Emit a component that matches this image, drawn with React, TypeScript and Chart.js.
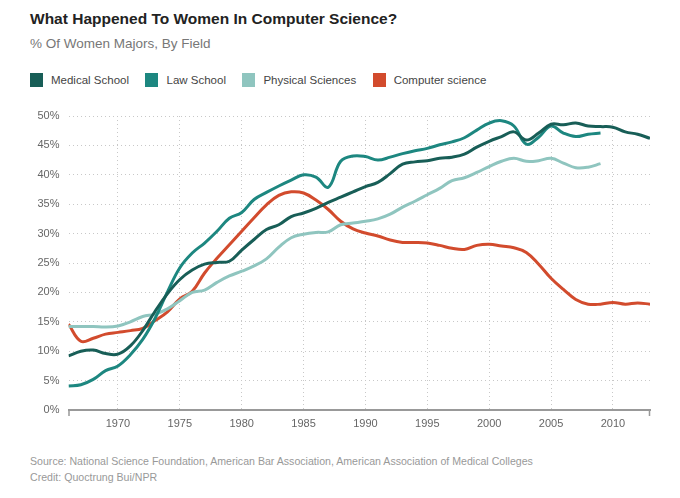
import { useEffect, useRef } from "react"
import { Chart, registerables } from "chart.js"

Chart.register(...registerables)

// 1966 - 2013
const years = [
  1966, 1967, 1968, 1969, 1970, 1971, 1972, 1973, 1974, 1975, 1976, 1977,
  1978, 1979, 1980, 1981, 1982, 1983, 1984, 1985, 1986, 1987, 1988, 1989,
  1990, 1991, 1992, 1993, 1994, 1995, 1996, 1997, 1998, 1999, 2000, 2001,
  2002, 2003, 2004, 2005, 2006, 2007, 2008, 2009, 2010, 2011, 2012, 2013,
]

const medicalSchool = [
  9.2, 10.0, 10.2, 9.6, 9.5, 10.9, 13.5, 16.8, 19.8, 22.2, 23.8, 24.8,
  25.1, 25.3, 27.2, 29.0, 30.7, 31.5, 32.9, 33.5, 34.3, 35.3, 36.2, 37.1,
  38.0, 38.7, 40.2, 41.8, 42.2, 42.4, 42.8, 43.0, 43.5, 44.7, 45.7, 46.5,
  47.3, 45.9, 47.1, 48.6, 48.5, 48.8, 48.3, 48.2, 48.1, 47.3, 46.9, 46.2,
]

// ends 2009
const lawSchool = [
  4.1, 4.3, 5.2, 6.7, 7.5, 9.4, 12.0, 15.6, 20.1, 24.2, 26.7, 28.4,
  30.4, 32.6, 33.6, 35.8, 37.0, 38.1, 39.1, 40.0, 39.6, 37.9, 42.3, 43.2,
  43.1, 42.5, 43.0, 43.6, 44.1, 44.5, 45.1, 45.6, 46.3, 47.6, 48.8, 49.2,
  48.3, 45.2, 46.4, 48.3, 47.1, 46.5, 46.9, 47.1,
]

// ends 2009
const physicalSciences = [
  14.2, 14.2, 14.2, 14.1, 14.3, 15.0, 15.9, 16.3, 17.2, 18.6, 20.0, 20.4,
  21.7, 22.8, 23.6, 24.5, 25.7, 27.7, 29.3, 29.9, 30.2, 30.3, 31.5, 31.8,
  32.1, 32.5, 33.3, 34.5, 35.5, 36.6, 37.7, 39.0, 39.5, 40.4, 41.4, 42.3,
  42.8, 42.3, 42.4, 42.8, 42.0, 41.2, 41.3, 41.9,
]

const computerScience = [
  14.6, 11.7, 12.2, 12.9, 13.2, 13.5, 13.9, 15.2, 16.7, 18.9, 20.2, 23.3,
  25.8, 28.1, 30.4, 32.7, 34.9, 36.5, 37.1, 36.9, 35.7, 34.1, 32.1, 30.8,
  30.1, 29.6, 28.9, 28.5, 28.5, 28.4, 28.0, 27.5, 27.3, 28.0, 28.2, 27.9,
  27.6, 26.8, 24.8, 22.4, 20.5, 18.8, 18.0, 18.0, 18.3, 18.0, 18.2, 18.0,
]

const xTickYears = [1970, 1975, 1980, 1985, 1990, 1995, 2000, 2005, 2010]
const yTickValues = [0, 5, 10, 15, 20, 25, 30, 35, 40, 45, 50]

const series = [
  { label: "Medical School", values: medicalSchool, color: "#185e57" },
  { label: "Law School", values: lawSchool, color: "#1d8780" },
  { label: "Physical Sciences", values: physicalSciences, color: "#8fc5bf" },
  { label: "Computer science", values: computerScience, color: "#d24b2d" },
]

const FONT = "'Liberation Sans', Arial, Helvetica, sans-serif"

// small tick marks at both ends of the x axis
const endTicks = {
  id: "endTicks",
  afterDraw(chart: Chart) {
    const { ctx, chartArea } = chart
    ctx.save()
    ctx.strokeStyle = "#999"
    ctx.lineWidth = 1.5
    ctx.beginPath()
    for (const x of [chartArea.left + 0.5, chartArea.right - 0.5]) {
      ctx.moveTo(x, chartArea.bottom)
      ctx.lineTo(x, chartArea.bottom + 6)
    }
    ctx.stroke()
    ctx.restore()
  },
}

function WomenMajorsChart() {
  const chartRef = useRef<HTMLCanvasElement>(null)
  const chartInstance = useRef<Chart | null>(null)

  useEffect(() => {
    if (!chartRef.current) return
    if (chartInstance.current) chartInstance.current.destroy()
    const ctx = chartRef.current.getContext("2d")
    if (!ctx) return

    chartInstance.current = new Chart(ctx, {
      type: "line",
      data: {
        datasets: series.map((s) => ({
          label: s.label,
          data: s.values.map((v, i) => ({ x: years[i], y: v })),
          borderColor: s.color,
          backgroundColor: s.color,
          borderWidth: 3,
          pointRadius: 0,
          tension: 0.4,
          fill: false,
        })),
      },
      options: {
        animation: false,
        responsive: true,
        maintainAspectRatio: false,
        layout: { padding: { left: 0, right: 30, top: 16, bottom: 0 } },
        plugins: {
          legend: { display: false },
          tooltip: { enabled: false },
        },
        scales: {
          x: {
            type: "linear",
            min: years[0],
            max: years[years.length - 1],
            afterBuildTicks: (scale) => {
              scale.ticks = xTickYears.map((v) => ({ value: v }))
            },
            afterFit: (scale) => {
              scale.height = 30
            },
            grid: {
              color: "#c8c8c8",
              lineWidth: 1,
              drawTicks: false,
            },
            border: { display: true, color: "#999", width: 2, dash: [1, 3] },
            ticks: {
              padding: 7,
              color: "#666",
              font: { family: FONT, size: 11 },
              maxRotation: 0,
              callback: (v) => String(v),
            },
          },
          y: {
            min: 0,
            max: 50,
            afterBuildTicks: (scale) => {
              scale.ticks = yTickValues.map((v) => ({ value: v }))
            },
            afterFit: (scale) => {
              scale.width = 68.5
            },
            grid: { color: "#c8c8c8", lineWidth: 1, drawTicks: false },
            border: { display: false, dash: [1, 3] },
            ticks: {
              padding: 9,
              color: "#666",
              font: { family: FONT, size: 11 },
              callback: (v) => v + "%",
            },
          },
        },
      },
      plugins: [endTicks],
    })

    return () => {
      if (chartInstance.current) {
        chartInstance.current.destroy()
        chartInstance.current = null
      }
    }
  }, [])

  return <canvas ref={chartRef} />
}

export default function App() {
  const abs = { position: "absolute" as const }
  return (
    <div style={{ ...abs, left: 0, top: 0, width: 680, height: 498, background: "#fff", fontFamily: FONT }}>
      <div style={{ ...abs, left: 30, top: 8.5, fontSize: 15.5, lineHeight: "20px", fontWeight: "bold", color: "#222", whiteSpace: "nowrap" }}>
        What Happened To Women In Computer Science?
      </div>
      <div style={{ ...abs, left: 30, top: 35.5, fontSize: 13.5, lineHeight: "16px", color: "#777", whiteSpace: "nowrap" }}>
        % Of Women Majors, By Field
      </div>
      <div style={{ ...abs, left: 30, top: 73, height: 14, display: "flex", alignItems: "center", whiteSpace: "nowrap" }}>
        {series.map((s) => (
          <div key={s.label} style={{ display: "flex", alignItems: "center", marginRight: 16.5 }}>
            <span style={{ display: "inline-block", width: 13, height: 14, background: s.color, marginRight: 8 }} />
            <span style={{ fontSize: 11.5, lineHeight: "14px", color: "#444" }}>{s.label}</span>
          </div>
        ))}
      </div>
      <div style={{ ...abs, left: 0, top: 100, width: 680, height: 340 }}>
        <WomenMajorsChart />
      </div>
      <div style={{ ...abs, left: 30, top: 452.5, fontSize: 10.6, lineHeight: "16px", color: "#999", whiteSpace: "nowrap" }}>
        <div>Source: National Science Foundation, American Bar Association, American Association of Medical Colleges</div>
        <div>Credit: Quoctrung Bui/NPR</div>
      </div>
    </div>
  )
}
